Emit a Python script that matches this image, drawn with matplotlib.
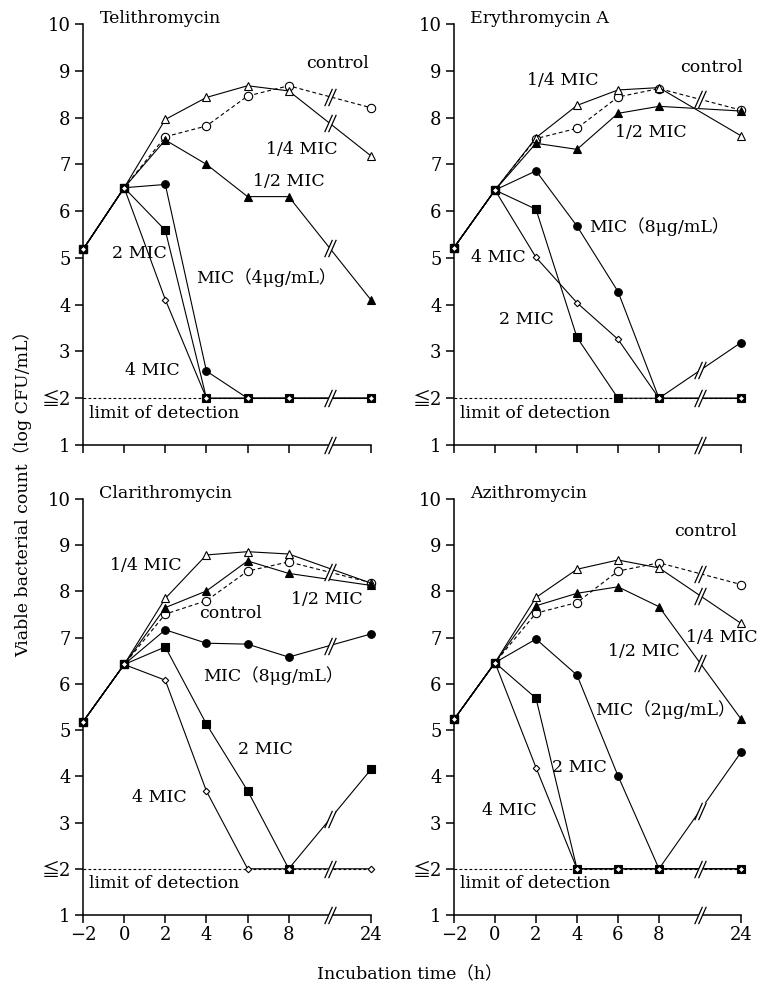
import matplotlib
matplotlib.use("Agg")
import matplotlib.pyplot as plt
from matplotlib.path import Path

plt.rcParams['font.family'] = ['DejaVu Serif', 'Noto Sans CJK JP']
plt.rcParams['font.size'] = 12.5

# sampling times (h); 24 h sits after an axis break
times = [-2, 0, 2, 4, 6, 8, 24]
tick_labels = ['\u22122', '0', '2', '4', '6', '8', '24']
ytick_labels = ['1', '\u22662', '3', '4', '5', '6', '7', '8', '9', '10']
series_names = ['control', '1/4 MIC', '1/2 MIC', 'MIC', '2 MIC', '4 MIC']

# log CFU/mL
tel_control = [5.18, 6.50, 7.59, 7.82, 8.46, 8.68, 8.21]
tel_q = [5.18, 6.50, 7.96, 8.43, 8.68, 8.57, 7.18]
tel_h = [5.18, 6.50, 7.52, 7.00, 6.31, 6.31, 4.10]
tel_mic = [5.18, 6.50, 6.57, 2.58, 2.0, 2.0, 2.0]
tel_2mic = [5.18, 6.50, 5.59, 2.0, 2.0, 2.0, 2.0]
tel_4mic = [5.18, 6.50, 4.11, 2.0, 2.0, 2.0, 2.0]

ery_control = [5.22, 6.45, 7.55, 7.77, 8.44, 8.62, 8.16]
ery_q = [5.22, 6.45, 7.57, 8.26, 8.59, 8.64, 7.61]
ery_h = [5.22, 6.45, 7.45, 7.32, 8.09, 8.24, 8.14]
ery_mic = [5.22, 6.45, 6.86, 5.68, 4.28, 2.0, 3.19]
ery_2mic = [5.22, 6.45, 6.04, 3.30, 2.0, 2.0, 2.0]
ery_4mic = [5.22, 6.45, 5.01, 4.04, 3.26, 2.0, 2.0]

cla_control = [5.18, 6.42, 7.51, 7.80, 8.44, 8.64, 8.19]
cla_q = [5.18, 6.42, 7.85, 8.79, 8.86, 8.81, 8.18]
cla_h = [5.18, 6.42, 7.65, 8.01, 8.66, 8.39, 8.13]
cla_mic = [5.18, 6.42, 7.17, 6.88, 6.86, 6.58, 7.08]
cla_2mic = [5.18, 6.42, 6.80, 5.13, 3.69, 2.0, 4.15]
cla_4mic = [5.18, 6.42, 6.08, 3.68, 2.0, 2.0, 2.0]

azi_control = [5.23, 6.46, 7.53, 7.76, 8.44, 8.62, 8.15]
azi_q = [5.23, 6.46, 7.87, 8.48, 8.68, 8.51, 7.31]
azi_h = [5.23, 6.46, 7.69, 7.96, 8.10, 7.67, 5.24]
azi_mic = [5.23, 6.46, 6.97, 6.19, 4.01, 2.0, 4.52]
azi_2mic = [5.23, 6.46, 5.69, 2.0, 2.0, 2.0, 2.0]
azi_4mic = [5.23, 6.46, 4.19, 2.0, 2.0, 2.0, 2.0]

drugs = ['Telithromycin', 'Erythromycin A', 'Clarithromycin', 'Azithromycin']
mic_values = ['4', '8', '8', '2']

# (label, x, y) in data coordinates for each panel
tel_labels = [('control', 8.86, 9.16), ('1/4 MIC', 6.9, 7.32), ('1/2 MIC', 6.28, 6.64),
              ('2 MIC', -0.6, 5.10), ('MIC', 3.5, 4.59), ('4 MIC', 0.05, 2.6)]
ery_labels = [('control', 9.05, 9.06), ('1/4 MIC', 1.56, 8.8), ('1/2 MIC', 5.84, 7.67),
              ('MIC', 4.6, 5.66), ('4 MIC', -1.17, 5.0), ('2 MIC', 0.2, 3.69)]
cla_labels = [('1/4 MIC', -0.68, 8.57), ('control', 3.65, 7.53), ('1/2 MIC', 8.13, 7.82),
              ('MIC', 3.85, 6.19), ('2 MIC', 5.55, 4.57), ('4 MIC', 0.39, 3.55)]
azi_labels = [('control', 8.76, 9.29), ('1/4 MIC', 9.3, 7.01), ('1/2 MIC', 5.5, 6.69),
              ('MIC', 4.87, 5.44), ('2 MIC', 2.77, 4.2), ('4 MIC', -0.63, 3.25)]

panels = [
    (drugs[0], mic_values[0], [tel_control, tel_q, tel_h, tel_mic, tel_2mic, tel_4mic], tel_labels),
    (drugs[1], mic_values[1], [ery_control, ery_q, ery_h, ery_mic, ery_2mic, ery_4mic], ery_labels),
    (drugs[2], mic_values[2], [cla_control, cla_q, cla_h, cla_mic, cla_2mic, cla_4mic], cla_labels),
    (drugs[3], mic_values[3], [azi_control, azi_q, azi_h, azi_mic, azi_2mic, azi_4mic], azi_labels),
]

styles = {
    'control': dict(marker='o', ms=6, mfc='white', ls=(0, (3.5, 2.5))),
    '1/4 MIC': dict(marker='^', ms=6, mfc='white', ls='-'),
    '1/2 MIC': dict(marker='^', ms=6, mfc='black', ls='-'),
    'MIC': dict(marker='o', ms=5.5, mfc='black', ls='-'),
    '2 MIC': dict(marker='s', ms=5.5, mfc='black', ls='-'),
    '4 MIC': dict(marker='D', ms=3.3, mfc='white', ls='-'),
}


def xpos(t):
    # broken axis: 24 h drawn two units after the break
    return t if t <= 8 else 12


xs = [xpos(t) for t in times]

# "//" break marker: white gap + two strokes
gap_mark = Path([(-6, -9), (-2, -9), (6, 9), (2, 9), (-6, -9)],
                [Path.MOVETO, Path.LINETO, Path.LINETO, Path.LINETO, Path.CLOSEPOLY])
stroke_mark = Path([(-6, -9), (2, 9), (-2, -9), (6, 9)],
                   [Path.MOVETO, Path.LINETO, Path.MOVETO, Path.LINETO])


def break_mark(ax, x, y):
    ax.plot([x], [y], marker=gap_mark, ms=12.5, mfc='white', mec='none', ls='none',
            zorder=6, clip_on=False)
    ax.plot([x], [y], marker=stroke_mark, ms=12.5, mfc='none', mec='black', mew=0.9,
            ls='none', zorder=7, clip_on=False)


fig = plt.figure(figsize=(7.61, 9.85), dpi=100)
positions = [
    [0.10907, 0.54822, 0.37845, 0.42741],
    [0.59658, 0.54822, 0.37714, 0.42741],
    [0.10907, 0.07107, 0.37845, 0.42233],
    [0.59658, 0.07107, 0.37714, 0.42233],
]

for i, (drug, mic, data, labels) in enumerate(panels):
    ax = fig.add_axes(positions[i])
    ax.set_xlim(-2, 12)
    ax.set_ylim(1, 10)
    for s in ['top', 'right']:
        ax.spines[s].set_visible(False)
    for s in ['left', 'bottom']:
        ax.spines[s].set_linewidth(1.1)

    # limit of detection
    ax.plot([xs[0], xs[-1]], [2, 2], color='black', lw=0.8, ls=(0, (2.5, 2)), zorder=1)

    for name, ys in zip(series_names, data):
        st = styles[name]
        ax.plot(xs, ys, color='black', lw=0.8, ls=st['ls'], marker=st['marker'],
                ms=st['ms'], mfc=st['mfc'], mec='black', mew=0.8,
                markevery=list(range(2, len(xs))), clip_on=False, zorder=3)

    # common inoculum points
    ax.plot(xs[:2], data[0][:2], ls='none', marker='s', ms=5.5, color='black',
            clip_on=False, zorder=4)
    ax.plot(xs[:2], data[0][:2], ls='none', marker='D', ms=3.3, mfc='white',
            mec='black', mew=0.8, clip_on=False, zorder=4)

    # break marks at x=10 on each distinct line, the limit line and the axis
    marks = []
    for ys in data:
        ym = ys[5] + (ys[6] - ys[5]) * (10 - xs[5]) / (xs[6] - xs[5])
        if all(abs(ym - m) > 0.3 for m in marks):
            marks.append(ym)
    if all(abs(2 - m) > 0.3 for m in marks):
        marks.append(2)
    marks.append(1)
    for ym in marks:
        break_mark(ax, 10, ym)

    ax.set_xticks(xs)
    ax.set_yticks(range(1, 11))
    ax.set_yticklabels(ytick_labels)
    if i >= 2:
        ax.set_xticklabels(tick_labels)
    else:
        ax.set_xticklabels([])
    ax.tick_params(direction='out', length=6, width=1.1, labelsize=13)
    ax.tick_params(axis='x', pad=2)
    ax.tick_params(axis='y', pad=3)

    ax.text(-1.2, 10.12, drug, ha='left', va='center')
    for lab, lx, ly in labels:
        txt = lab
        if lab == 'MIC':
            txt = 'MIC\uff08' + mic + '\u03bcg/mL\uff09'
        ax.text(lx, ly, txt, ha='left', va='center', zorder=8)
    ax.text(-1.7, 1.68, 'limit of detection', ha='left', va='center')

fig.text(0.030, 0.503, 'Viable bacterial count\uff08log CFU/mL\uff09', rotation=90,
         ha='center', va='center')
fig.text(0.539, 0.0102, 'Incubation time\uff08h\uff09', ha='center', va='center')

fig.savefig('out.png', dpi=100)
